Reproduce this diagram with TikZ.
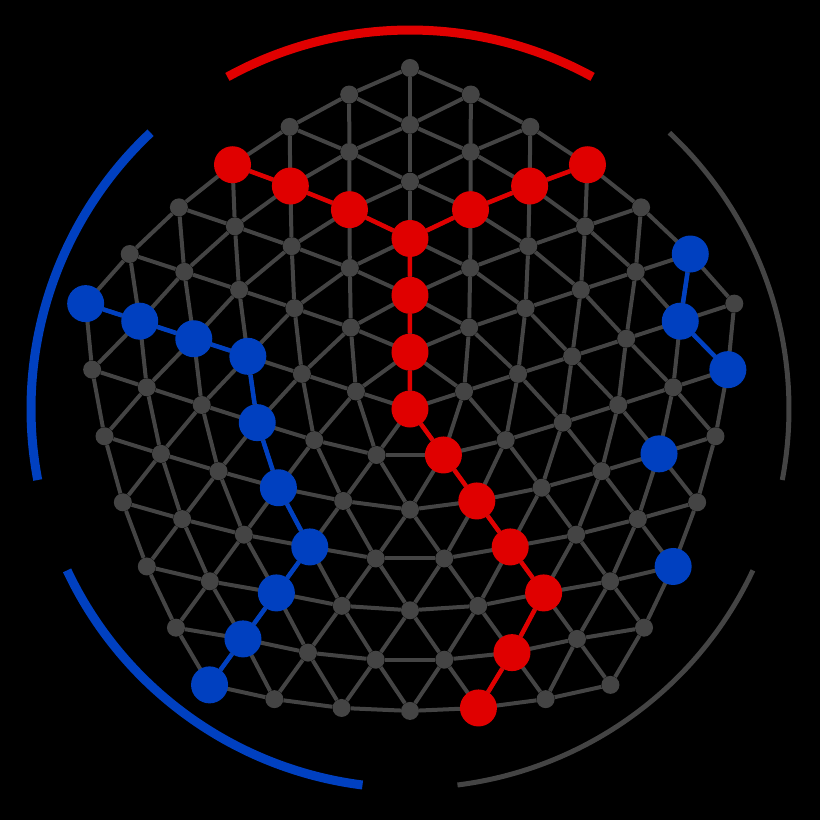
\documentclass[tikz,border=0pt]{standalone}
\pgfdeclarelayer{back}
\pgfdeclarelayer{bg}
\pgfdeclarelayer{mid}
\pgfsetlayers{back,bg,mid,main}
\definecolor{meshgray}{HTML}{444444}
\definecolor{pred}{HTML}{E00000}
\definecolor{pblue}{HTML}{0040C0}
\begin{document}
\begin{tikzpicture}[x=1pt,y=1pt,
  gnode/.style={circle,fill=meshgray,inner sep=0pt,minimum size=18pt},
  rnode/.style={circle,fill=pred,inner sep=0pt,minimum size=37pt},
  bnode/.style={circle,fill=pblue,inner sep=0pt,minimum size=37pt},
  gedge/.style={draw=meshgray,line width=4pt},
  redge/.style={draw=pred,line width=4.5pt},
  bedge/.style={draw=pblue,line width=4.5pt},
  ringarc/.style={line cap=butt}]
\begin{pgfonlayer}{back}
\fill[black] (-410,-411) rectangle (410,409);
\end{pgfonlayer}
\useasboundingbox (-410,-411) rectangle (410,409);
\def\R{341}
% mesh nodes
\node[gnode] (n-0-0) at (0,0) {};
\foreach \k in {1,...,6}{
  \pgfmathtruncatemacro\N{5*\k-1}
  \foreach \j in {0,...,\N}{
    \pgfmathtruncatemacro\i{int((\j+0.5)/\k)}
    \pgfmathtruncatemacro\b{\j-\i*\k}
    \pgfmathtruncatemacro\a{\k-\b}
    \pgfmathsetmacro\ta{90+72*\i}
    \pgfmathsetmacro\tb{\ta+72}
    \pgfmathsetmacro\tc{90+72*\j/\k}
    \pgfmathsetmacro\px{0.1*\R*(\a*cos(\ta)+\b*cos(\tb)) + 0.4*\k*\R/6*cos(\tc)}
    \pgfmathsetmacro\py{0.1*\R*(\a*sin(\ta)+\b*sin(\tb)) + 0.4*\k*\R/6*sin(\tc)}
    \node[gnode] (n-\k-\j) at (\px,\py) {};
  }
}
% mesh edges
\begin{pgfonlayer}{bg}
\foreach \j in {0,...,4} \draw[gedge] (n-0-0) -- (n-1-\j);
\foreach \k in {1,...,6}{
  \pgfmathtruncatemacro\N{5*\k-1}
  \foreach \j in {0,...,\N}{
    \pgfmathtruncatemacro\nx{mod(\j+1,5*\k)}
    \draw[gedge] (n-\k-\j) -- (n-\k-\nx);
  }
}
\foreach \k in {1,...,5}{
  \pgfmathtruncatemacro\N{5*\k-1}
  \pgfmathtruncatemacro\K{\k+1}
  \foreach \j in {0,...,\N}{
    \pgfmathtruncatemacro\i{int((\j+0.5)/\k)}
    \pgfmathtruncatemacro\b{\j-\i*\k}
    \pgfmathtruncatemacro\ta{\i*\K+\b}
    \pgfmathtruncatemacro\tb{\ta+1}
    \pgfmathtruncatemacro\tz{mod(\i*\K-1+5*\K,5*\K)}
    \draw[gedge] (n-\k-\j) -- (n-\K-\ta);
    \draw[gedge] (n-\k-\j) -- (n-\K-\tb);
    \ifnum\b=0 \draw[gedge] (n-\k-\j) -- (n-\K-\tz);\fi
  }
}
\end{pgfonlayer}
% highlighted nodes
\foreach \p in {0-0,1-0,2-0,3-0,4-1,5-2,6-3,4-19,5-23,6-27,1-3,2-6,3-9,4-12,5-14,6-16}
  \node[rnode] (R-\p) at (n-\p) {};
\foreach \p in {6-6,5-5,4-4,3-3,3-4,3-5,3-6,4-8,5-10,6-12,6-25,5-20,6-23,5-18,6-20}
  \node[bnode] (B-\p) at (n-\p) {};
\begin{pgfonlayer}{mid}
\draw[redge] (R-6-3) -- (R-5-2) -- (R-4-1) -- (R-3-0) -- (R-4-19) -- (R-5-23) -- (R-6-27);
\draw[redge] (R-3-0) -- (R-2-0) -- (R-1-0) -- (R-0-0) -- (R-1-3) -- (R-2-6) -- (R-3-9) -- (R-4-12) -- (R-5-14) -- (R-6-16);
\draw[bedge] (B-6-6) -- (B-5-5) -- (B-4-4) -- (B-3-3) -- (B-3-4) -- (B-3-5) -- (B-3-6) -- (B-4-8) -- (B-5-10) -- (B-6-12);
\draw[bedge] (B-6-25) -- (B-5-20) -- (B-6-23);
\end{pgfonlayer}
% outer arcs
\foreach \c/\col/\w in {90/pred/9,162/pblue/9,234/pblue/9,306/meshgray/5,18/meshgray/5}
  \draw[ringarc,draw=\col,line width=\w pt] (\c-28.8:379) arc[start angle=\c-28.8,end angle=\c+28.8,radius=379];
\end{tikzpicture}
\end{document}
